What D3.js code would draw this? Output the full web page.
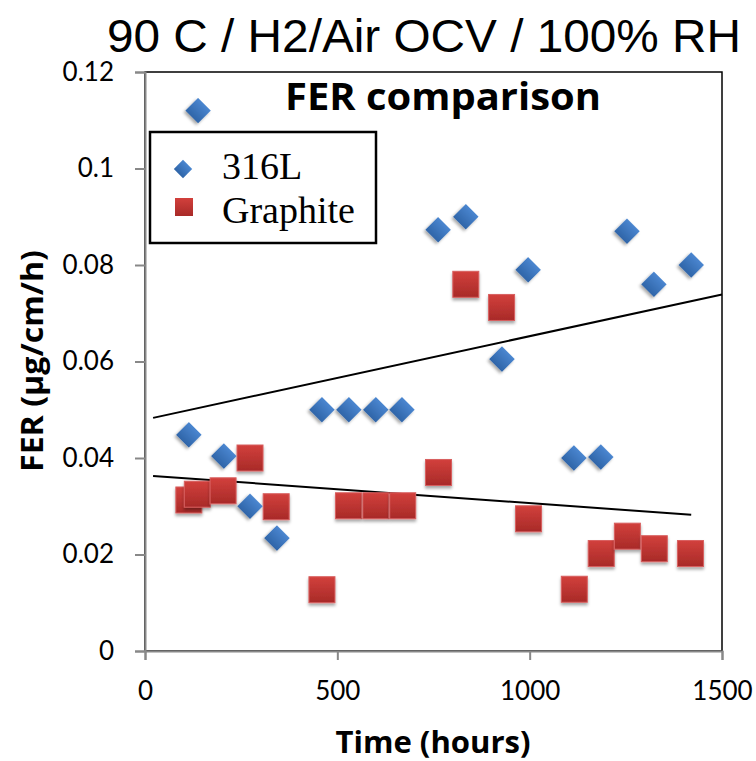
<!DOCTYPE html>
<html>
<head>
<meta charset="utf-8">
<script src="https://cdn.jsdelivr.net/npm/d3@7"></script>
<style>
  body { margin: 0; background: #fff; }
  svg { display: block; }
</style>
</head>
<body>
<div id="chart"></div>
<script>
// data
var hours316 = [138, 114, 205, 273, 343, 460, 530, 600, 668, 762, 834, 928, 996, 1115, 1185, 1253, 1323, 1420];
var fer316   = [0.112, 0.0448, 0.0404, 0.030, 0.0234, 0.050, 0.050, 0.050, 0.050, 0.0873, 0.090, 0.0605, 0.079, 0.040, 0.0402, 0.087, 0.076, 0.080];

var hoursGraphite = [114, 136, 203, 273, 341, 460, 529, 600, 670, 763, 834, 927, 997, 1116, 1186, 1254, 1324, 1418];
var ferGraphite   = [0.0313, 0.0325, 0.0332, 0.040, 0.0299, 0.0127, 0.0301, 0.0301, 0.0301, 0.037, 0.076, 0.0712, 0.0274, 0.0128, 0.0202, 0.0238, 0.0212, 0.0202];

// trendline x-extent (hours) for each series
var trend316Range      = [21, 1500];
var trendGraphiteRange = [21, 1420];

var xTicks = [0, 500, 1000, 1500];
var yTicks = [0, 0.02, 0.04, 0.06, 0.08, 0.1, 0.12];

var seriesNames = ["316L", "Graphite"];

var width = 756, height = 761;
var margin = {top: 72, right: 34, bottom: 110, left: 145};

var svg = d3.select("#chart").append("svg")
    .attr("width", width)
    .attr("height", height);

var defs = svg.append("defs");

//gradients for the markers
var gBlue = defs.append("linearGradient").attr("id", "gBlue")
    .attr("x1", 0).attr("y1", 0).attr("x2", 0).attr("y2", 1);
gBlue.append("stop").attr("offset", "0%").attr("stop-color", "#4a86d0");
gBlue.append("stop").attr("offset", "100%").attr("stop-color", "#2f65a8");

var gRed = defs.append("linearGradient").attr("id", "gRed")
    .attr("x1", 0).attr("y1", 0).attr("x2", 0).attr("y2", 1);
gRed.append("stop").attr("offset", "0%").attr("stop-color", "#d2403c");
gRed.append("stop").attr("offset", "100%").attr("stop-color", "#a82a28");

var shadow = defs.append("filter").attr("id", "shadow")
    .attr("x", "-30%").attr("y", "-30%").attr("width", "160%").attr("height", "170%");
shadow.append("feDropShadow")
    .attr("dx", 0).attr("dy", 2.5).attr("stdDeviation", 1.6)
    .attr("flood-color", "#000").attr("flood-opacity", 0.35);

var x = d3.scaleLinear().domain([0, 1500]).range([margin.left, width - margin.right]);
var y = d3.scaleLinear().domain([0, 0.12]).range([height - margin.bottom, margin.top]);

//plot area border
svg.append("rect")
    .attr("x", x(0)).attr("y", y(0.12))
    .attr("width", x(1500) - x(0)).attr("height", y(0) - y(0.12))
    .attr("fill", "none").attr("stroke", "#000").attr("stroke-width", 1.5);

//axes
var yAxis = svg.append("g")
    .attr("transform", "translate(" + x(0) + ",0)")
    .call(d3.axisLeft(y).tickValues(yTicks).tickSize(10).tickPadding(21)
        .tickFormat(function(d) { return String(+d.toFixed(2)); }));

var xAxis = svg.append("g")
    .attr("transform", "translate(0," + y(0) + ")")
    .call(d3.axisBottom(x).tickValues(xTicks).tickSize(9).tickPadding(22)
        .tickFormat(function(d) { return String(d); }));

[xAxis, yAxis].forEach(function(a) {
    a.select(".domain").attr("stroke", "#888").attr("stroke-width", 2);
    a.selectAll(".tick line").attr("stroke", "#888").attr("stroke-width", 2);
    a.selectAll(".tick text")
        .attr("fill", "#000")
        .style("font-family", "Lato, 'Open Sans', sans-serif")
        .style("font-size", "26px");
});

//trendlines (least squares fit)
function fit(xs, ys) {
    var mx = d3.mean(xs), my = d3.mean(ys);
    var sxy = d3.sum(xs, function(v, i) { return (v - mx) * (ys[i] - my); });
    var sxx = d3.sum(xs, function(v) { return (v - mx) * (v - mx); });
    var b = sxy / sxx;
    return function(v) { return my + b * (v - mx); };
}

var line = d3.line()
    .x(function(d) { return x(d); });

var f316 = fit(hours316, fer316);
svg.append("path")
    .datum(trend316Range)
    .attr("d", line.y(function(d) { return y(f316(d)); }))
    .attr("stroke", "#000").attr("stroke-width", 2).attr("fill", "none");

var fGr = fit(hoursGraphite, ferGraphite);
svg.append("path")
    .datum(trendGraphiteRange)
    .attr("d", line.y(function(d) { return y(fGr(d)); }))
    .attr("stroke", "#000").attr("stroke-width", 2).attr("fill", "none");

//markers
var sqSize = 26, dmSize = 18;

svg.append("g").selectAll("rect")
    .data(hoursGraphite).enter()
    .append("rect")
    .attr("x", function(d) { return x(d) - sqSize / 2; })
    .attr("y", function(d, i) { return y(ferGraphite[i]) - sqSize / 2; })
    .attr("width", sqSize).attr("height", sqSize)
    .attr("fill", "url(#gRed)")
    .attr("stroke", "#d86060").attr("stroke-width", 1)
    .attr("filter", "url(#shadow)");

svg.append("g").selectAll("rect")
    .data(hours316).enter()
    .append("rect")
    .attr("x", -dmSize / 2).attr("y", -dmSize / 2)
    .attr("width", dmSize).attr("height", dmSize)
    .attr("transform", function(d, i) {
        return "translate(" + x(d) + "," + y(fer316[i]) + ") rotate(45)";
    })
    .attr("fill", "url(#gBlue)")
    .attr("filter", "url(#shadow)");

//legend
var legend = svg.append("g").attr("transform", "translate(150,132)");
legend.append("rect")
    .attr("width", 226).attr("height", 111)
    .attr("fill", "#fff").attr("stroke", "#000").attr("stroke-width", 2.5);

legend.append("rect")
    .attr("x", -6.5).attr("y", -6.5).attr("width", 13).attr("height", 13)
    .attr("transform", "translate(33,37) rotate(45)")
    .attr("fill", "url(#gBlue)");
legend.append("rect")
    .attr("x", 25).attr("y", 66).attr("width", 18).attr("height", 18)
    .attr("fill", "url(#gRed)");

legend.selectAll("text")
    .data(seriesNames).enter()
    .append("text")
    .attr("x", 72)
    .attr("y", function(d, i) { return 47 + i * 44; })
    .style("font-family", "'Liberation Serif', 'Times New Roman', serif")
    .style("font-size", "38px")
    .text(function(d) { return d; });

//titles
svg.append("text")
    .attr("x", 424).attr("y", 52)
    .attr("text-anchor", "middle")
    .attr("textLength", 634).attr("lengthAdjust", "spacingAndGlyphs")
    .style("font-family", "'Liberation Sans', Arial, sans-serif")
    .style("font-size", "46px")
    .text("90 C / H2/Air OCV / 100% RH");

svg.append("text")
    .attr("x", 443).attr("y", 110)
    .attr("text-anchor", "middle")
    .attr("textLength", 316).attr("lengthAdjust", "spacingAndGlyphs")
    .style("font-family", "'Open Sans', sans-serif")
    .style("font-weight", "bold")
    .style("font-size", "37px")
    .text("FER comparison");

svg.append("text")
    .attr("x", 433).attr("y", 753)
    .attr("text-anchor", "middle")
    .attr("textLength", 195).attr("lengthAdjust", "spacingAndGlyphs")
    .style("font-family", "'Open Sans', sans-serif")
    .style("font-weight", "bold")
    .style("font-size", "31px")
    .text("Time (hours)");

svg.append("text")
    .attr("transform", "translate(43,361) rotate(-90)")
    .attr("text-anchor", "middle")
    .attr("textLength", 222).attr("lengthAdjust", "spacingAndGlyphs")
    .style("font-family", "'Open Sans', sans-serif")
    .style("font-weight", "bold")
    .style("font-size", "30px")
    .text("FER (µg/cm/h)");
</script>
</body>
</html>
